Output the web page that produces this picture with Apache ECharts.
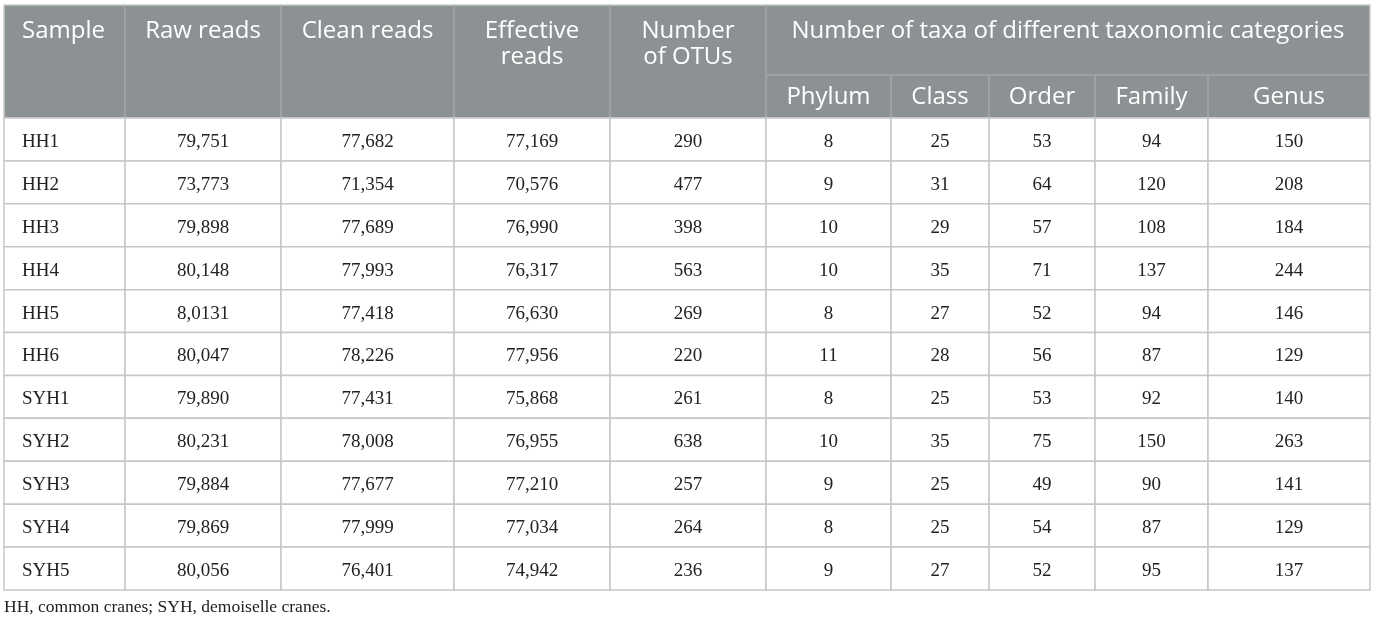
<!DOCTYPE html>
<html>
<head>
<meta charset="utf-8">
<script src="https://cdn.jsdelivr.net/npm/echarts@6/dist/echarts.min.js"></script>
<style>
  html, body { margin: 0; padding: 0; background: #fff; }
  #main { width: 1375px; height: 622px; }
</style>
</head>
<body>
<div id="main"></div>
<script>
// table data, as printed
const samples = ['HH1', 'HH2', 'HH3', 'HH4', 'HH5', 'HH6', 'SYH1', 'SYH2', 'SYH3', 'SYH4', 'SYH5'];
const rawReads = ['79,751', '73,773', '79,898', '80,148', '8,0131', '80,047', '79,890', '80,231', '79,884', '79,869', '80,056'];
const cleanReads = ['77,682', '71,354', '77,689', '77,993', '77,418', '78,226', '77,431', '78,008', '77,677', '77,999', '76,401'];
const effectiveReads = ['77,169', '70,576', '76,990', '76,317', '76,630', '77,956', '75,868', '76,955', '77,210', '77,034', '74,942'];
const otus = [290, 477, 398, 563, 269, 220, 261, 638, 257, 264, 236];
const phylum = [8, 9, 10, 10, 8, 11, 8, 10, 9, 8, 9];
const classes = [25, 31, 29, 35, 27, 28, 25, 35, 25, 25, 27];
const order = [53, 64, 57, 71, 52, 56, 53, 75, 49, 54, 52];
const family = [94, 120, 108, 137, 94, 87, 92, 150, 90, 87, 95];
const genus = [150, 208, 184, 244, 146, 129, 140, 263, 141, 129, 137];

const topHeaders = ['Sample', 'Raw reads', 'Clean reads', 'Effective\nreads', 'Number\nof OTUs'];
const groupHeader = 'Number of taxa of different taxonomic categories';
const subHeaders = ['Phylum', 'Class', 'Order', 'Family', 'Genus'];
const footnote = 'HH, common cranes; SYH, demoiselle cranes.';

const tableCols = [samples, rawReads, cleanReads, effectiveReads, otus, phylum, classes, order, family, genus];

// layout (pixels)
const gridLeft = 4, gridTop = 118, gridBottom = 32, tableWidth = 1366;
const headTop = 5, subTop = 75;
const colEdges = [0, 121, 277, 450, 606, 762, 887, 985, 1091, 1204, 1366];
const lineColor = '#c6c6c6';
const headBg = '#8c9193';
const headLine = '#a4a9aa';
const headFont = '"Open Sans", "Noto Sans", sans-serif';
const bodyFont = '"Liberation Serif", "DejaVu Serif", serif';
const headSize = 24, bodySize = 19;

const cells = [];
tableCols.forEach((col, c) => {
  col.forEach((v, r) => cells.push([c, r]));
});

// header graphics
const headerGraphics = [];
headerGraphics.push({
  type: 'rect',
  shape: { x: gridLeft, y: headTop, width: tableWidth, height: gridTop - headTop },
  style: { fill: headBg, stroke: '#c9cccc', lineWidth: 1.5 }
});
function hLine(x1, y1, x2, y2) {
  headerGraphics.push({
    type: 'line',
    shape: { x1: x1, y1: y1, x2: x2, y2: y2 },
    style: { stroke: headLine, lineWidth: 1.5 }
  });
}
for (let i = 1; i < colEdges.length - 1; i++) {
  const x = gridLeft + colEdges[i];
  hLine(x, i <= 5 ? headTop : subTop, x, gridTop);
}
hLine(gridLeft + colEdges[5], subTop, gridLeft + tableWidth, subTop);

topHeaders.forEach((t, i) => {
  const left = i === 0;
  const twoLines = t.indexOf('\n') >= 0;
  headerGraphics.push({
    type: 'text',
    x: left ? gridLeft + 18 : gridLeft + (colEdges[i] + colEdges[i + 1]) / 2,
    y: twoLines ? 44 : 31,
    style: {
      text: t, fill: '#fff', font: headSize + 'px ' + headFont,
      textAlign: left ? 'left' : 'center', textVerticalAlign: 'middle', lineHeight: 26
    }
  });
});
headerGraphics.push({
  type: 'text',
  x: gridLeft + (colEdges[5] + colEdges[10]) / 2,
  y: 31,
  style: { text: groupHeader, fill: '#fff', font: headSize + 'px ' + headFont, textAlign: 'center', textVerticalAlign: 'middle' }
});
subHeaders.forEach((t, i) => {
  headerGraphics.push({
    type: 'text',
    x: gridLeft + (colEdges[i + 5] + colEdges[i + 6]) / 2,
    y: (subTop + gridTop) / 2 + 0.5,
    style: { text: t, fill: '#fff', font: headSize + 'px ' + headFont, textAlign: 'center', textVerticalAlign: 'middle' }
  });
});
headerGraphics.push({
  type: 'text',
  x: gridLeft,
  y: 607,
  style: { text: footnote, fill: '#222', font: '17.5px ' + bodyFont, textAlign: 'left', textVerticalAlign: 'middle' }
});

const myChart = echarts.init(document.getElementById('main'));
const option = {
  animation: false,
  grid: { left: gridLeft, top: gridTop, width: tableWidth, bottom: gridBottom },
  xAxis: { type: 'value', min: 0, max: tableWidth, show: false },
  yAxis: { type: 'category', data: samples, inverse: true, show: false },
  graphic: headerGraphics,
  series: [{
    type: 'custom',
    data: cells,
    encode: { x: 0, y: 1 },
    renderItem: function (params, api) {
      const c = api.value(0), r = api.value(1);
      const p0 = api.coord([colEdges[c], r]);
      const p1 = api.coord([colEdges[c + 1], r]);
      const h = api.size([0, 1])[1];
      const first = c === 0;
      return {
        type: 'group',
        children: [{
          type: 'rect',
          shape: { x: p0[0], y: p0[1] - h / 2, width: p1[0] - p0[0], height: h },
          style: { fill: '#fff', stroke: lineColor, lineWidth: 1.5 }
        }, {
          type: 'text',
          x: first ? p0[0] + 18 : (p0[0] + p1[0]) / 2,
          y: p0[1] + 2.5,
          style: {
            text: String(tableCols[c][r]), fill: '#222', font: bodySize + 'px ' + bodyFont,
            textAlign: first ? 'left' : 'center', textVerticalAlign: 'middle'
          }
        }]
      };
    }
  }]
};
myChart.setOption(option);
</script>
</body>
</html>
